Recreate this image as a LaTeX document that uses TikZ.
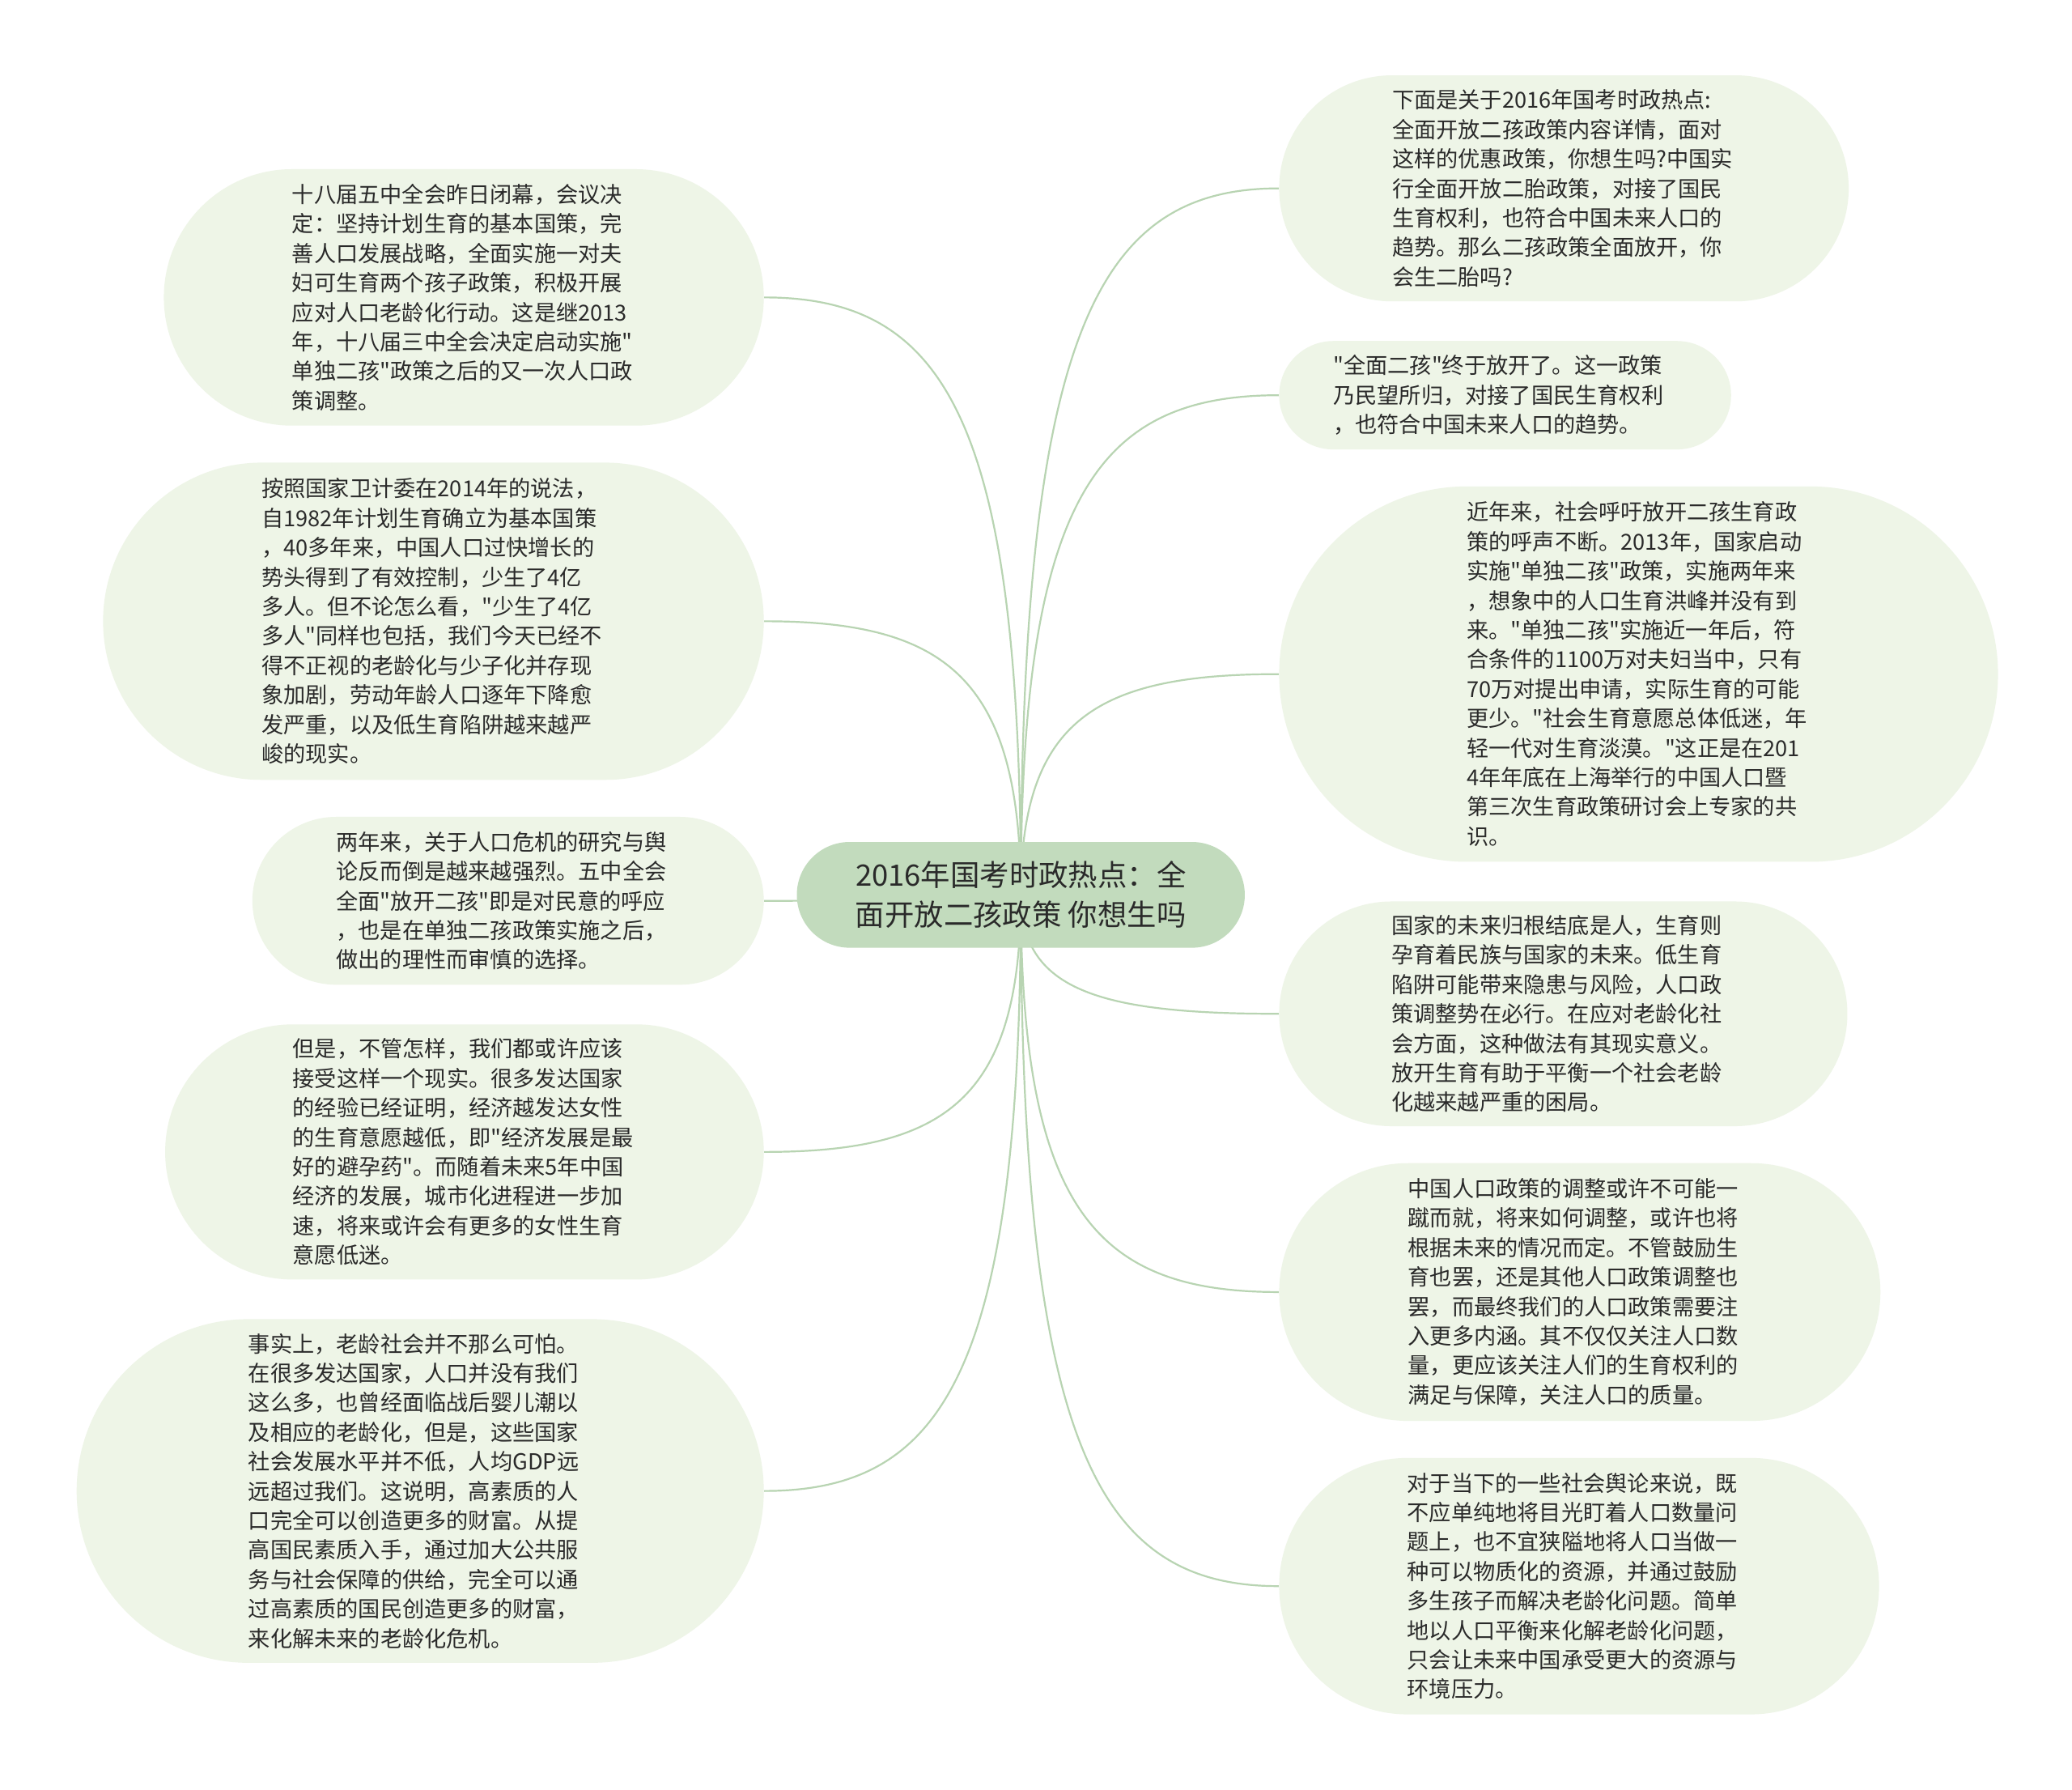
\documentclass[tikz,border=0pt]{standalone}
\usepackage{fontspec}
\newfontfamily\cjk{Noto Sans CJK SC}
\usetikzlibrary{calc}
\definecolor{bubfill}{HTML}{EEF5E7}
\definecolor{cenfill}{HTML}{C2DBBD}
\definecolor{linecol}{HTML}{B8D4B2}
\definecolor{txtcol}{HTML}{2A2A2A}
\pgfdeclarelayer{bg}
\pgfsetlayers{bg,main}
\newcommand\myu{0.8163pt}
\newcommand\mkb[5]{%
  \node[bubble, minimum height={#4*\myu}, text width={260*\myu},
        inner xsep={#4/2*\myu}, rounded corners={#4/2*\myu}]
        (#1) at ({#2+(260+#4)/2}, #3) {#5};}
\begin{document}
\begin{tikzpicture}[x=0.8163pt,y=-0.8163pt,
  bubble/.style={fill=bubfill, draw=none, inner ysep=0pt, align=left,
    text=txtcol, font=\cjk\fontsize{13.6pt}{18.2pt}\selectfont},
  centre/.style={fill=cenfill, draw=none, inner sep=0pt, align=center,
    text=txtcol, font=\cjk\fontsize{18.2pt}{24.5pt}\selectfont,
    minimum width={339*\myu}, minimum height={80*\myu}, rounded corners={40*\myu}},
  conn/.style={draw=linecol, line width=1.1pt}]
\useasboundingbox (0,0) rectangle (1568,1354);

\node[centre] (c) at (772.5,677) {2016年国考时政热点：全\\面开放二孩政策 你想生吗};

% left
\mkb{L1}{124}{225}{194}{十八届五中全会昨日闭幕，会议决\\定：坚持计划生育的基本国策，完\\善人口发展战略，全面实施一对夫\\妇可生育两个孩子政策，积极开展\\应对人口老龄化行动。这是继2013\\年，十八届三中全会决定启动实施"\\单独二孩"政策之后的又一次人口政\\策调整。}
\mkb{L2}{78}{470}{240}{按照国家卫计委在2014年的说法，\\自1982年计划生育确立为基本国策\\，40多年来，中国人口过快增长的\\势头得到了有效控制，少生了4亿\\多人。但不论怎么看，"少生了4亿\\多人"同样也包括，我们今天已经不\\得不正视的老龄化与少子化并存现\\象加剧，劳动年龄人口逐年下降愈\\发严重，以及低生育陷阱越来越严\\峻的现实。}
\mkb{L3}{191}{681.5}{127}{两年来，关于人口危机的研究与舆\\论反而倒是越来越强烈。五中全会\\全面"放开二孩"即是对民意的呼应\\，也是在单独二孩政策实施之后，\\做出的理性而审慎的选择。}
\mkb{L4}{125}{871.5}{193}{但是，不管怎样，我们都或许应该\\接受这样一个现实。很多发达国家\\的经验已经证明，经济越发达女性\\的生育意愿越低，即"经济发展是最\\好的避孕药"。而随着未来5年中国\\经济的发展，城市化进程进一步加\\速，将来或许会有更多的女性生育\\意愿低迷。}
\mkb{L5}{58}{1128}{260}{事实上，老龄社会并不那么可怕。\\在很多发达国家，人口并没有我们\\这么多，也曾经面临战后婴儿潮以\\及相应的老龄化，但是，这些国家\\社会发展水平并不低，人均GDP远\\远超过我们。这说明，高素质的人\\口完全可以创造更多的财富。从提\\高国民素质入手，通过加大公共服\\务与社会保障的供给，完全可以通\\过高素质的国民创造更多的财富，\\来化解未来的老龄化危机。}

% right
\mkb{R1}{968}{142.5}{171}{下面是关于2016年国考时政热点:\\全面开放二孩政策内容详情，面对\\这样的优惠政策，你想生吗?中国实\\行全面开放二胎政策，对接了国民\\生育权利，也符合中国未来人口的\\趋势。那么二孩政策全面放开，你\\会生二胎吗?}
\mkb{R2}{968}{299}{82}{"全面二孩"终于放开了。这一政策\\乃民望所归，对接了国民生育权利\\，也符合中国未来人口的趋势。}
\mkb{R3}{968}{510}{284}{近年来，社会呼吁放开二孩生育政\\策的呼声不断。2013年，国家启动\\实施"单独二孩"政策，实施两年来\\，想象中的人口生育洪峰并没有到\\来。"单独二孩"实施近一年后，符\\合条件的1100万对夫妇当中，只有\\70万对提出申请，实际生育的可能\\更少。"社会生育意愿总体低迷，年\\轻一代对生育淡漠。"这正是在201\\4年年底在上海举行的中国人口暨\\第三次生育政策研讨会上专家的共\\识。}
\mkb{R4}{968}{767}{170}{国家的未来归根结底是人，生育则\\孕育着民族与国家的未来。低生育\\陷阱可能带来隐患与风险，人口政\\策调整势在必行。在应对老龄化社\\会方面，这种做法有其现实意义。\\放开生育有助于平衡一个社会老龄\\化越来越严重的困局。}
\mkb{R5}{968}{977.5}{195}{中国人口政策的调整或许不可能一\\蹴而就，将来如何调整，或许也将\\根据未来的情况而定。不管鼓励生\\育也罢，还是其他人口政策调整也\\罢，而最终我们的人口政策需要注\\入更多内涵。其不仅仅关注人口数\\量，更应该关注人们的生育权利的\\满足与保障，关注人口的质量。}
\mkb{R6}{968}{1200}{194}{对于当下的一些社会舆论来说，既\\不应单纯地将目光盯着人口数量问\\题上，也不宜狭隘地将人口当做一\\种可以物质化的资源，并通过鼓励\\多生孩子而解决老龄化问题。简单\\地以人口平衡来化解老龄化问题，\\只会让未来中国承受更大的资源与\\环境压力。}

\begin{pgfonlayer}{bg}
\fill[white] (0,0) rectangle (1568,1354);
\foreach \n in {L1,L2,L3,L4,L5}
  \draw[conn] (c.center) .. controls ($(c.center)!0.8!(c.center |- \n.east)$)
      and ($(c.center |- \n.east)!0.3!(\n.east)$) .. (\n.east);
\foreach \n in {R1,R2,R3,R4,R5,R6}
  \draw[conn] (c.center) .. controls ($(c.center)!0.8!(c.center |- \n.west)$)
      and ($(c.center |- \n.west)!0.3!(\n.west)$) .. (\n.west);
\end{pgfonlayer}
\end{tikzpicture}
\end{document}
